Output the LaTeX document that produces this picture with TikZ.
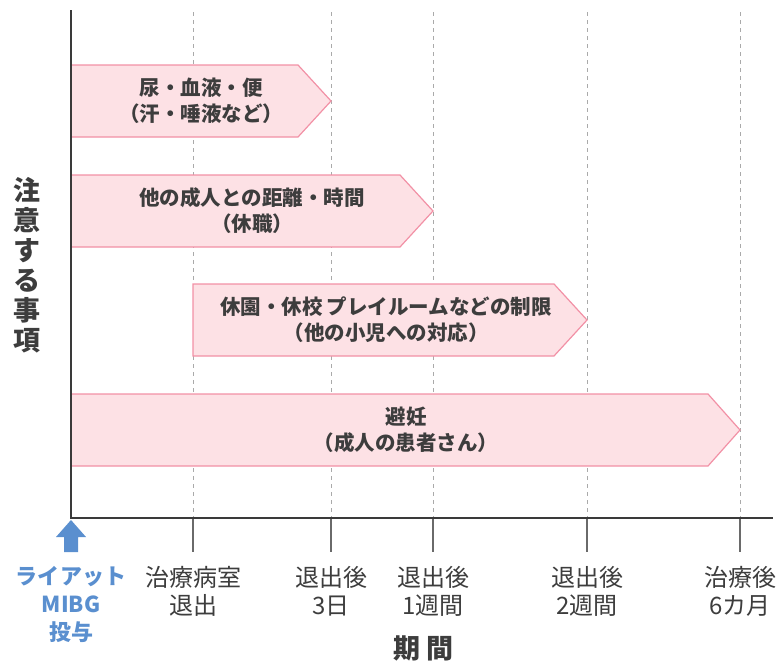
\documentclass[tikz,border=0pt]{standalone}
\usepackage{fontspec}
\setmainfont{Noto Sans CJK JP}
\definecolor{barfill}{HTML}{FDE1E5}
\definecolor{barline}{HTML}{F291A6}
\definecolor{textdark}{HTML}{3D3D3D}
\definecolor{axiscol}{HTML}{3A3A3A}
\definecolor{gridcol}{HTML}{AAAAAA}
\definecolor{tickcol}{HTML}{6A6A6A}
\definecolor{mibgblue}{HTML}{5A8FCF}
\begin{document}
\begin{tikzpicture}[x=1pt,y=-1pt,
  gridline/.style={draw=gridcol, line width=1pt, dash pattern=on 4pt off 4pt},
  tickline/.style={draw=tickcol, line width=1.3pt},
  axisline/.style={draw=axiscol, line width=2.4pt},
  bar/.style={fill=barfill, draw=barline, line width=1.2pt, line join=miter},
  bartext/.style={font=\bfseries\fontsize{20.5}{26}\selectfont, text=textdark, align=center, inner sep=0pt},
  ticklabel/.style={font=\fontsize{24}{28}\selectfont, text=textdark, align=center, inner sep=0pt},
  bluelabel/.style={font=\bfseries\fontsize{22}{28}\selectfont, text=mibgblue, align=center, inner sep=0pt},
  axistitle/.style={font=\bfseries\fontsize{27}{30}\selectfont, text=textdark, align=center, inner sep=0pt}
]
\useasboundingbox (0,0) rectangle (778,667);
% grid and ticks
\foreach \gx/\nm in {193/a,331/b,433/c,587/d,740/e}{
  \coordinate (g\nm top) at (\gx,12);
  \coordinate (g\nm base) at (\gx,518);
  \coordinate (g\nm tick) at (\gx,552);
  \draw[gridline] (g\nm top) -- (g\nm base);
  \draw[tickline] (g\nm base) -- (g\nm tick);
}
% bars
\draw[bar] (71,65) -- (298,65) -- (331,101) -- (298,137) -- (71,137) -- cycle;
\draw[bar] (71,175) -- (400,175) -- (433,211) -- (400,247) -- (71,247) -- cycle;
\draw[bar] (193,284) -- (554,284) -- (587,320) -- (554,356) -- (193,356) -- cycle;
\draw[bar] (71,394) -- (708,394) -- (740,430) -- (708,466) -- (71,466) -- cycle;
\node[bartext] (t1) at (201,101) {尿・血液・便\\（汗・唾液など）};
\node[bartext] (t2) at (252,211) {他の成人との距離・時間\\（休職）};
\node[bartext] (t3) at (386,320) {休園・休校\hspace{4pt}プレイルームなどの制限\\（他の小児への対応）};
\node[bartext] (t4) at (406,430) {避妊\\（成人の患者さん）};
% axes
\coordinate (O) at (71,518);
\coordinate (Ytop) at (71,10);
\coordinate (Xend) at (773,518);
\draw[axisline] (Ytop) -- (O) -- (Xend);
% blue arrow
\fill[mibgblue] (71,520) -- (86,537) -- (78,537) -- (78,552) -- (64,552) -- (64,537) -- (56,537) -- cycle;
% labels
\node[bluelabel] (l0) at (71,604) {ライアット\\MIBG\\投与};
\node[ticklabel] (l1) at (193,591) {治療病室\\退出};
\node[ticklabel] (l2) at (331,591) {退出後\\3日};
\node[ticklabel] (l3) at (433,591) {退出後\\1週間};
\node[ticklabel] (l4) at (587,591) {退出後\\2週間};
\node[ticklabel] (l5) at (740,591) {治療後\\6カ月};
\node[axistitle] (xt) at (423,648) {期\hspace{6pt}間};
\node[axistitle] (yt) at (27,265) {注\\意\\す\\る\\事\\項};
\end{tikzpicture}
\end{document}
